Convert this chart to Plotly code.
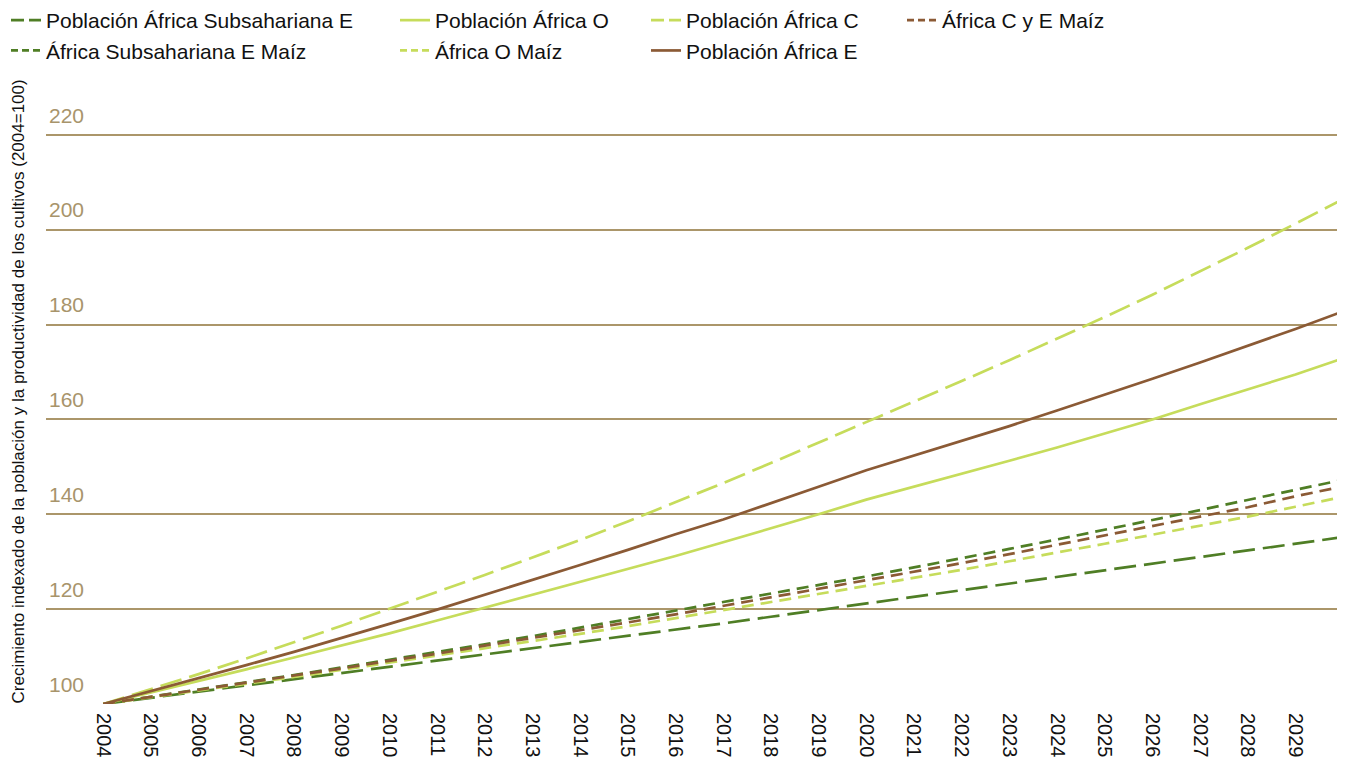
import plotly.graph_objects as go

years = list(range(2004, 2031))
tick_years = list(range(2004, 2030))
y_ticks = [100, 120, 140, 160, 180, 200, 220]

pob_sse = [100, 101.3, 102.6, 103.9, 105.2, 106.5, 107.8, 109.1, 110.4, 111.7, 113.0, 114.3, 115.6,
           117.0, 118.4, 119.8, 121.2, 122.6, 124.0, 125.4, 126.8, 128.2, 129.6, 131.0, 132.4, 133.8, 135.2]
pob_o = [100, 102.4, 104.8, 107.3, 109.8, 112.3, 114.9, 117.6, 120.3, 123.0, 125.7, 128.4, 131.2,
         134.1, 137.0, 140.0, 143.1, 145.8, 148.5, 151.3, 154.1, 157.0, 160.0, 163.2, 166.3, 169.5, 172.9]
pob_c = [100, 103.1, 106.3, 109.6, 113.0, 116.5, 120.1, 123.6, 127.2, 130.9, 134.6, 138.5, 142.5,
         146.6, 150.8, 155.1, 159.5, 163.8, 168.1, 172.5, 177.0, 181.6, 186.3, 191.2, 196.2, 201.3, 206.5]
pob_e = [100, 102.7, 105.4, 108.2, 111.0, 113.9, 116.9, 119.9, 123.0, 126.1, 129.3, 132.5, 135.8,
         138.9, 142.3, 145.8, 149.3, 152.4, 155.5, 158.6, 161.9, 165.2, 168.6, 172.0, 175.5, 179.1, 182.8]
maiz_sse = [100, 101.5, 103.0, 104.6, 106.1, 107.7, 109.3, 111.0, 112.6, 114.3, 116.1, 117.8, 119.6,
            121.4, 123.2, 125.0, 126.9, 128.8, 130.7, 132.7, 134.7, 136.7, 138.8, 140.9, 143.0, 145.1, 147.3]
maiz_ce = [100, 101.5, 102.9, 104.4, 105.9, 107.5, 109.1, 110.6, 112.3, 113.9, 115.6, 117.2, 118.9,
           120.7, 122.4, 124.2, 126.0, 127.9, 129.7, 131.6, 133.6, 135.5, 137.5, 139.5, 141.5, 143.8, 145.9]
maiz_o = [100, 101.4, 102.8, 104.2, 105.7, 107.2, 108.7, 110.2, 111.7, 113.3, 114.8, 116.4, 118.1,
          119.7, 121.4, 123.1, 124.8, 126.6, 128.3, 130.1, 131.9, 133.8, 135.7, 137.6, 139.5, 141.6, 143.7]

LIGHT = "#c6dc5b"
DARK = "#4f7e25"
BROWN = "#8b5a35"
TAN = "#a8946b"
GRID = "#ab966a"
LONG = "22px,8px"
SHORT = "12px,7px"
LONG_LEG = "13px,5px"
SHORT_LEG = "7px,4px"
LW = 2.7

series = [
    ("Población África Subsahariana E", pob_sse, DARK, LONG, LONG_LEG, "legend"),
    ("África Subsahariana E Maíz", maiz_sse, DARK, SHORT, SHORT_LEG, "legend"),
    ("Población África O", pob_o, LIGHT, "solid", "solid", "legend2"),
    ("África O Maíz", maiz_o, LIGHT, SHORT, SHORT_LEG, "legend2"),
    ("Población África C", pob_c, LIGHT, LONG, LONG_LEG, "legend3"),
    ("Población África E", pob_e, BROWN, "solid", "solid", "legend3"),
    ("África C y E Maíz", maiz_ce, BROWN, SHORT, SHORT_LEG, "legend4"),
]

fig = go.Figure()
for name, vals, col, dash, legdash, lg in series:
    # data line
    fig.add_trace(go.Scatter(x=years, y=vals, name=name, mode="lines",
                             line=dict(color=col, width=LW, dash=dash),
                             showlegend=False, legendgroup=name))
    # legend entry (shorter dash pattern to fit the legend sample)
    fig.add_trace(go.Scatter(x=[None], y=[None], name=name, mode="lines",
                             line=dict(color=col, width=LW, dash=legdash),
                             legend=lg, legendgroup=name, hoverinfo="skip"))

W, H = 1345, 758
ML, MR, MT, MB = 46, 8, 79, 54
pw = W - ML - MR
ph = H - MT - MB

def px2x(px):
    return (px - ML) / pw

legfont = dict(family="Liberation Sans, Arial, sans-serif", size=21, color="#111111")
leg_common = dict(orientation="v", yanchor="top", xanchor="left", yref="container", y=1.006,
                  font=legfont, bgcolor="rgba(0,0,0,0)", borderwidth=0, tracegroupgap=0)

fig.update_layout(
    width=W, height=H,
    margin=dict(l=ML, r=MR, t=MT, b=MB, autoexpand=False),
    paper_bgcolor="white", plot_bgcolor="white",
    font=dict(family="Liberation Sans, Arial, sans-serif", size=21, color="#111111"),
    legend=dict(x=px2x(6), **leg_common),
    legend2=dict(x=px2x(395), **leg_common),
    legend3=dict(x=px2x(646), **leg_common),
    legend4=dict(x=px2x(902), **leg_common),
    xaxis=dict(range=[2002.8, 2029.87], tickmode="array", tickvals=tick_years,
               ticktext=[str(y) for y in tick_years], tickangle=90,
               showgrid=False, zeroline=False, showline=False, ticks="",
               tickfont=dict(size=20, color="#111111"), automargin=False,
               ticklabelstandoff=8),
    yaxis=dict(range=[100, 231.8], tickmode="array", tickvals=y_ticks,
               showgrid=True, gridcolor=GRID, gridwidth=1.6, zeroline=False,
               showline=False, ticks="", ticklabelposition="inside top",
               ticklabelshift=-5,
               tickfont=dict(size=21, color=TAN), automargin=False),
    annotations=[dict(
        text="Crecimiento indexado de la población y la productividad de los cultivos (2004=100)",
        xref="paper", yref="paper", x=px2x(18), y=0.5, textangle=-90,
        showarrow=False, xanchor="center", yanchor="middle",
        font=dict(family="Liberation Sans, Arial, sans-serif", size=17, color="#111111"))],
)

fig.write_html("out.html", config={"displayModeBar": False},
               post_script="document.body.style.margin='0';document.body.style.padding='0';")
